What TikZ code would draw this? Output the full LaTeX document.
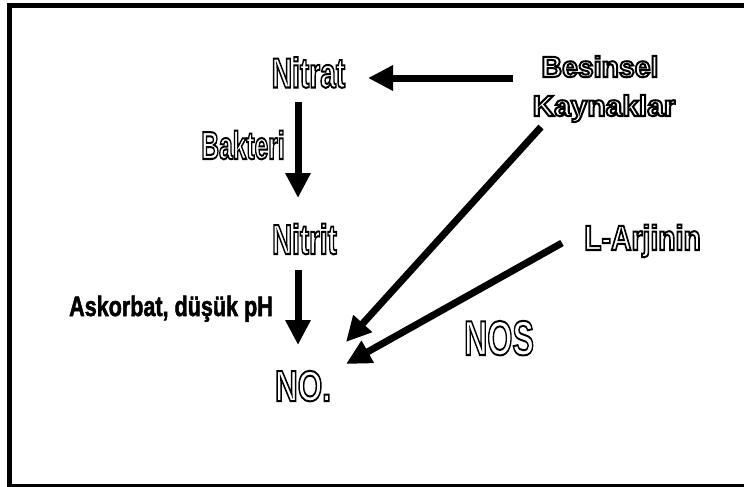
\documentclass[tikz,border=0pt]{standalone}
\usepackage{graphicx}
\usepackage{fontspec}
\setmainfont{Liberation Sans}
\usetikzlibrary{arrows.meta}

% Hollow (stroked-outline) lettering: #1 horizontal squeeze, #2 font size, #3 text
\newcommand\hollow[3]{\scalebox{#1}[1]{\fontsize{#2}{#2}\selectfont\bfseries
  \special{pdf:literal direct 1 Tr 2 w}#3\special{pdf:literal direct 0 Tr}}}
% Solid bold lettering with a light extra stroke
\newcommand\solid[3]{\scalebox{#1}[1]{\fontsize{#2}{#2}\selectfont\bfseries
  \special{pdf:literal direct 2 Tr 0.6 w}#3\special{pdf:literal direct 0 Tr}}}

\tikzset{
  lbl/.style={inner sep=0pt, outer sep=0pt, anchor=base},
  bigarrow/.style={line width=7pt, line cap=butt,
    -{Triangle[length=25pt,width=24pt]}},
}

\begin{document}
\begin{tikzpicture}[x=1pt,y=-1pt]
  \useasboundingbox (0,0) rectangle (744,487);
  \begin{scope}
    \clip (0,0) rectangle (744,487);
    \fill[white] (0,0) rectangle (744,487);
    \draw[line width=5pt] (9,6) rectangle (752,486);
  \end{scope}

  % labels
  \node[lbl] (nitrat)  at (308.5,87.5) {\hollow{0.67}{42}{Nitrat}};
  \node[lbl] (bakteri) at (243,159)    {\hollow{0.63}{39}{Bakteri}};
  \node[lbl] (nitrit)  at (304.5,254)  {\hollow{0.66}{42}{Nitrit}};
  \node[lbl] (no)      at (303,401)    {\hollow{0.73}{43.3}{NO.}};
  \node[lbl] (askor)   at (171,316)    {\solid{0.77}{28}{Askorbat, düşük pH}};
  \node[lbl] (besin)   at (600,77)     {\hollow{0.97}{29.3}{Besinsel}};
  \node[lbl] (kaynak)  at (604,116)    {\hollow{1.02}{29.3}{Kaynaklar}};
  \node[lbl] (arj)     at (642.5,250)  {\hollow{0.81}{35}{L-Arjinin}};
  \node[lbl] (nos)     at (499,355)    {\hollow{0.66}{48.9}{NOS}};

  % arrow end points
  \coordinate (besinOut)  at (513,78);
  \coordinate (nitratIn)  at (368,78);
  \coordinate (nitratOut) at (298,102);
  \coordinate (nitritIn)  at (298,198);
  \coordinate (nitritOut) at (298,270);
  \coordinate (noInTop)   at (298,345);
  \coordinate (kaynakOut) at (541,127);
  \coordinate (noInMid)   at (346,342);
  \coordinate (arjOut)    at (562,243);
  \coordinate (noInLow)   at (346,364);

  % arrows
  \draw[bigarrow] (besinOut)  -- (nitratIn);
  \draw[bigarrow] (nitratOut) -- (nitritIn);
  \draw[bigarrow] (nitritOut) -- (noInTop);
  \draw[bigarrow] (kaynakOut) -- (noInMid);
  \draw[bigarrow] (arjOut)    -- (noInLow);
\end{tikzpicture}
\end{document}
